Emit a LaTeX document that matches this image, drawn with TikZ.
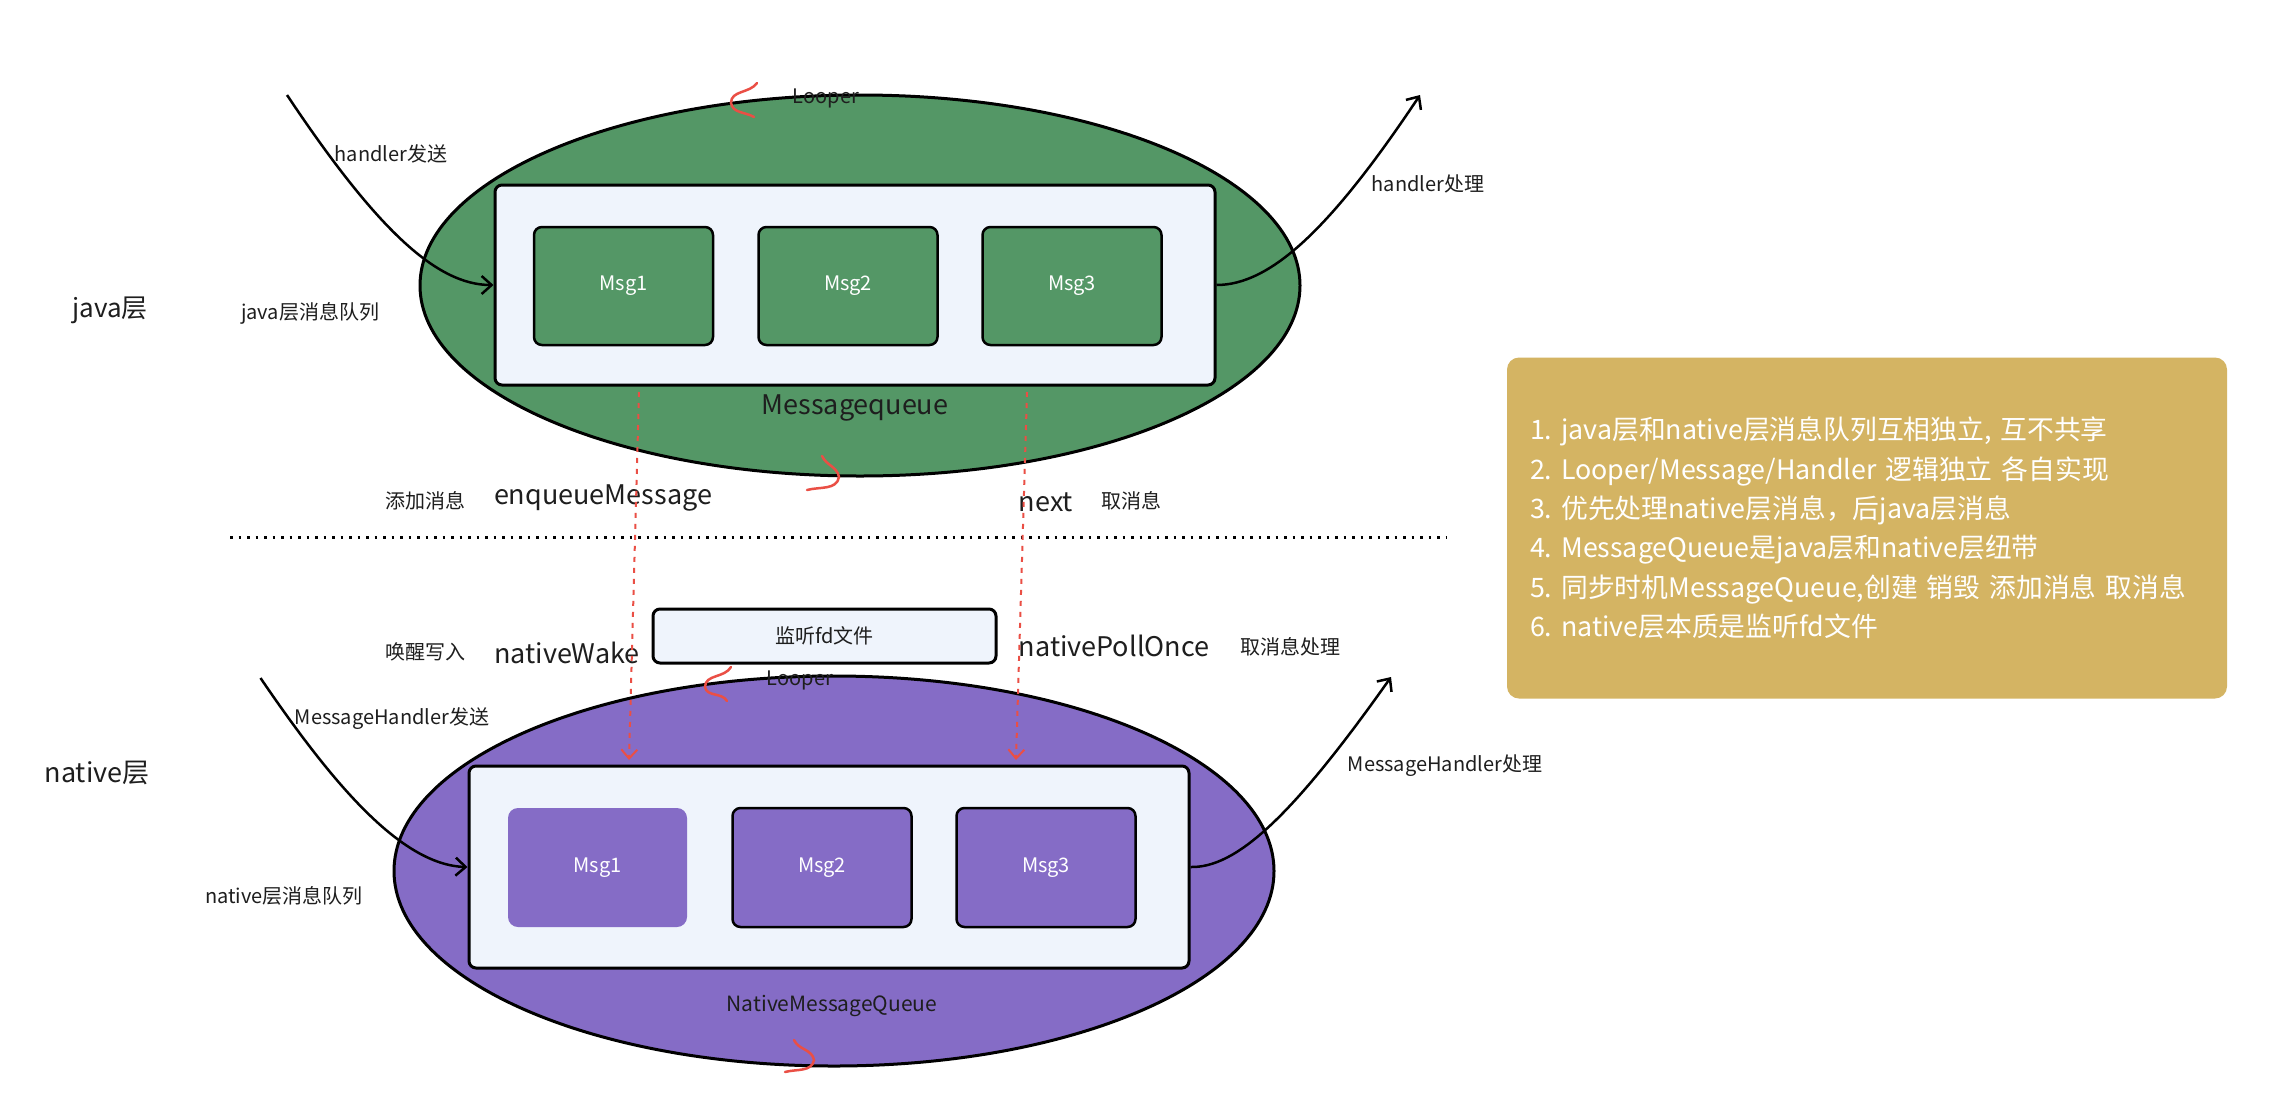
\documentclass[tikz,border=0pt]{standalone}
\usepackage{fontspec}
\setmainfont{Noto Sans CJK SC}
\usetikzlibrary{arrows.meta,shapes.geometric}
\definecolor{gfill}{HTML}{549766}
\definecolor{pfill}{HTML}{856CC6}
\definecolor{lfill}{HTML}{EFF4FC}
\definecolor{ybox}{HTML}{D4B463}
\definecolor{redl}{HTML}{EA4F45}
\definecolor{txt}{HTML}{1E1E1E}
\newcommand\fsS{\fontsize{20pt}{24pt}\selectfont}
\newcommand\fsL{\fontsize{27pt}{32pt}\selectfont}
\newcommand\fsY{\fontsize{26.8pt}{39.3pt}\selectfont}
\frenchspacing
\begin{document}
\begin{tikzpicture}[x=1pt,y=-1pt,
  ell/.style={ellipse,draw=black,line width=3pt,minimum width=880pt,inner sep=0pt},
  queue/.style={rectangle,rounded corners=7pt,draw=black,line width=3pt,fill=lfill,minimum width=720pt,inner sep=0pt},
  msgbox/.style={rectangle,rounded corners=8pt,draw=black,line width=2.5pt,minimum width=179pt,minimum height=118pt,text=white,font=\fsS,inner sep=0pt},
  lab/.style={text=txt,font=\fsS,inner sep=0pt},
  biglab/.style={text=txt,font=\fsL,inner sep=0pt},
  arr/.style={draw=black,line width=2.5pt,-{Straight Barb[length=10pt,width=18pt,line width=2.5pt]}},
  redarr/.style={draw=redl,line width=2pt,dash pattern=on 5pt off 6pt,-{Straight Barb[length=9pt,width=16pt,line width=2pt]}},
  squig/.style={draw=redl,line width=2.5pt,line cap=round}]
\useasboundingbox (0,0) rectangle (2296,1112);
\fill[white] (0,0) rectangle (2296,1112);

% java layer
\node[ell,fill=gfill,minimum height=381pt] (javaE) at (860,285.5) {};
\node[queue,minimum height=200pt] (javaQ) at (855,285) {};
\node[msgbox,fill=gfill] (jm1) at (623.5,286) {Msg1};
\node[msgbox,fill=gfill] (jm2) at (848,286) {Msg2};
\node[msgbox,fill=gfill] (jm3) at (1072,286) {Msg3};
\node[biglab] (jmq) at (855,408) {Messagequeue};
\node[lab] (jloop) at (826,98) {Looper};

% native layer
\node[ell,fill=pfill,minimum height=390pt] (natE) at (834,871) {};
\node[queue,minimum height=202pt] (natQ) at (829,867) {};
\node[rectangle,rounded corners=10pt,fill=pfill,minimum width=179pt,minimum height=119pt,text=white,font=\fsS,inner sep=0pt] (nm1) at (597.5,867.5) {Msg1};
\node[msgbox,fill=pfill,minimum height=119pt] (nm2) at (822,867.5) {Msg2};
\node[msgbox,fill=pfill,minimum height=119pt] (nm3) at (1046,867.5) {Msg3};
\node[text=txt,font=\fontsize{21pt}{25pt}\selectfont,inner sep=0pt] (nmq) at (832,1006) {NativeMessageQueue};
\node[lab] (nloop) at (800,680) {Looper};

% fd box
\node[rectangle,rounded corners=7pt,draw=black,line width=3pt,fill=lfill,minimum width=343pt,minimum height=54pt,font=\fsS,text=txt,inner sep=0pt] (fd) at (824.5,636) {监听fd文件};

% labels
\node[text=txt,font=\fontsize{26pt}{30pt}\selectfont,inner sep=0pt] (jl) at (110,310) {java层};
\node[text=txt,font=\fontsize{27pt}{30pt}\selectfont,inner sep=0pt] (nl) at (97,773) {native层};
\node[lab] (jmsgq) at (310,313) {java层消息队列};
\node[lab] (nmsgq) at (284,896) {native层消息队列};
\node[lab] (hs) at (391,154) {handler发送};
\node[lab] (hp) at (1428,184) {handler处理};
\node[lab] (mhs) at (392,719) {MessageHandler发送};
\node[lab] (mhp) at (1445,766) {MessageHandler处理};
\node[lab] (add) at (425,501) {添加消息};
\node[biglab] (enq) at (603,498) {enqueueMessage};
\node[biglab] (nxt) at (1046,502) {next};
\node[lab] (take) at (1131,501) {取消息};
\node[lab] (wake) at (425,652) {唤醒写入};
\node[biglab] (nwake) at (567,653) {nativeWake};
\node[biglab] (npoll) at (1114,646) {nativePollOnce};
\node[lab] (takep) at (1290,647) {取消息处理};

% dotted separator
\coordinate (sepL) at (230,537);
\coordinate (sepR) at (1447,537);
\draw[line width=3pt,dash pattern=on 2.5pt off 6pt] (sepL) -- (sepR);

% handler arrows
\coordinate (hsend) at (287,95);
\coordinate (hproc) at (1420,95);
\coordinate (msend) at (260.5,678);
\coordinate (mproc) at (1391,677);
\draw[arr] (hsend) .. controls (377,230) and (437,285) .. (javaQ.west);
\draw[arr] (javaQ.east) .. controls (1270,285) and (1330,230) .. (hproc);
\draw[arr] (msend) .. controls (330,780) and (400,865) .. (natQ.west);
\draw[arr] (natQ.east) .. controls (1235,868) and (1290,820) .. (mproc);

% red dashed arrows
\coordinate (rl1) at (639,392);
\coordinate (rl2) at (629,760);
\coordinate (rr1) at (1027,392);
\coordinate (rr2) at (1016,760);
\draw[redarr] (rl1) -- (rl2);
\draw[redarr] (rr1) -- (rr2);

% red squiggles
\draw[squig] (757,83) to[out=-125,in=90] (731,103) to[out=-80,in=150] (754,117);
\draw[squig] (822,456) to[out=-65,in=100] (839,477) to[out=-100,in=15] (807,490);
\draw[squig] (731,667) to[out=-120,in=90] (705,687) to[out=-80,in=120] (727,701);
\draw[squig] (794,1040) to[out=-65,in=100] (814,1060) to[out=-100,in=15] (785,1072);

% yellow summary box
\node[rectangle,rounded corners=12pt,fill=ybox,minimum width=720pt,minimum height=341pt,text width=674pt,inner xsep=23pt,align=left,text=white,font=\fsY] (note) at (1867,528) {1. java层和native层消息队列互相独立, 互不共享\\
2. Looper/Message/Handler 逻辑独立 各自实现\\
3. 优先处理native层消息，后java层消息\\
4. MessageQueue是java层和native层纽带\\
5. 同步时机MessageQueue,创建 销毁 添加消息 取消息\\
6. native层本质是监听fd文件};
\end{tikzpicture}
\end{document}
